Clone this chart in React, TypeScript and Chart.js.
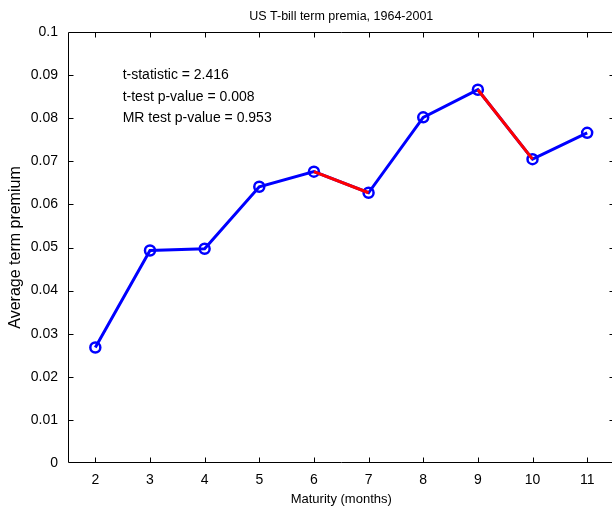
import React, { useEffect, useRef } from 'react';
import { Chart, registerables } from 'chart.js';

Chart.register(...registerables);

const chartTitle = 'US T-bill term premia, 1964-2001';
const xAxisTitle = 'Maturity (months)';
const yAxisTitle = 'Average term premium';
const maturities = [2, 3, 4, 5, 6, 7, 8, 9, 10, 11];
const premia = [0.0268, 0.0493, 0.0497, 0.0641, 0.0676, 0.0627, 0.0802, 0.0866, 0.0705, 0.0766];
const xTicks = [2, 3, 4, 5, 6, 7, 8, 9, 10, 11];
const yTicks = [0, 0.01, 0.02, 0.03, 0.04, 0.05, 0.06, 0.07, 0.08, 0.09, 0.1];
const statLines = ['t-statistic = 2.416', 't-test p-value = 0.008', 'MR test p-value = 0.953'];
const statX = 2.5;
const statY = [0.09, 0.085, 0.08];

const FONT = "'Liberation Sans', Arial, sans-serif";

export default function App() {
  const ref = useRef<HTMLCanvasElement>(null);

  useEffect(() => {
    const canvas = ref.current!;
    const blue = 'rgb(0,0,255)';
    const red = 'rgb(255,0,0)';
    const pts = maturities.map((m, i) => ({ x: m, y: premia[i] }));
    const redPts = maturities.map((m, i) => {
      const down =
        (i + 1 < premia.length && premia[i + 1] < premia[i]) ||
        (i > 0 && premia[i - 1] > premia[i]);
      return { x: m, y: down ? premia[i] : null };
    });

    const frame = {
      id: 'frame',
      afterDraw(chart: any) {
        const { ctx, chartArea } = chart;
        const x = chart.scales.x;
        const y = chart.scales.y;
        const L = Math.round(chartArea.left) + 0.5;
        const R = Math.round(chartArea.right) - 0.5;
        const T = Math.round(chartArea.top) + 0.5;
        const B = Math.round(chartArea.bottom) - 0.5;
        ctx.save();
        ctx.strokeStyle = '#000';
        ctx.lineWidth = 1;
        ctx.beginPath();
        ctx.rect(L, T, R - L, B - T);
        const tl = 5;
        xTicks.forEach((v) => {
          const px = Math.round(x.getPixelForValue(v)) + 0.5;
          ctx.moveTo(px, B);
          ctx.lineTo(px, B - tl);
          ctx.moveTo(px, T);
          ctx.lineTo(px, T + tl);
        });
        yTicks.forEach((v) => {
          const py = Math.round(y.getPixelForValue(v)) + 0.5;
          if (Math.abs(py - B) < 2 || Math.abs(py - T) < 2) return;
          ctx.moveTo(L, py);
          ctx.lineTo(L + tl, py);
          ctx.moveTo(R, py);
          ctx.lineTo(R - tl, py);
        });
        ctx.stroke();

        ctx.fillStyle = '#000';
        ctx.textBaseline = 'middle';
        ctx.textAlign = 'center';
        ctx.font = `12.5px ${FONT}`;
        ctx.fillText(chartTitle, (chartArea.left + chartArea.right) / 2, 16.5);

        ctx.font = `14px ${FONT}`;
        ctx.textAlign = 'left';
        statLines.forEach((s, i) => {
          ctx.fillText(s, x.getPixelForValue(statX), y.getPixelForValue(statY[i]));
        });
        ctx.restore();
      },
    };

    const chart = new Chart(canvas, {
      type: 'line',
      data: {
        datasets: [
          {
            data: redPts as any,
            borderColor: red,
            borderWidth: 3,
            pointRadius: 0,
            pointHoverRadius: 0,
            spanGaps: false,
            fill: false,
            tension: 0,
          },
          {
            data: pts,
            borderColor: blue,
            borderWidth: 3,
            pointRadius: 5,
            pointHoverRadius: 5,
            pointBorderWidth: 2.5,
            pointBorderColor: blue,
            pointBackgroundColor: 'rgba(0,0,0,0)',
            fill: false,
            tension: 0,
          },
        ],
      },
      options: {
        animation: false,
        responsive: false,
        devicePixelRatio: 1,
        layout: { padding: { left: 0, right: 8.5, top: 32, bottom: 0 } },
        plugins: {
          legend: { display: false },
          tooltip: { enabled: false },
          title: { display: false },
        },
        scales: {
          x: {
            type: 'linear',
            min: 1.5,
            max: 11.5,
            afterBuildTicks: (s: any) => {
              s.ticks = xTicks.map((v) => ({ value: v }));
            },
            afterFit: (s: any) => {
              s.height = 45;
            },
            grid: { display: false, drawTicks: false },
            border: { display: false },
            ticks: {
              color: '#000',
              font: { family: FONT, size: 14 },
              padding: 9,
              autoSkip: false,
              maxRotation: 0,
              callback: (v: any) => String(v),
            },
            title: {
              display: true,
              text: xAxisTitle,
              color: '#000',
              font: { family: FONT, size: 13 },
              padding: { top: 0, bottom: 1 },
            },
          },
          y: {
            type: 'linear',
            min: 0,
            max: 0.1,
            afterBuildTicks: (s: any) => {
              s.ticks = yTicks.map((v) => ({ value: v }));
            },
            afterFit: (s: any) => {
              s.width = 68;
            },
            grid: { display: false, drawTicks: false },
            border: { display: false },
            ticks: {
              color: '#000',
              font: { family: FONT, size: 14 },
              padding: 10,
              autoSkip: false,
              callback: (v: any) => String(+Number(v).toFixed(2)),
            },
            title: {
              display: true,
              text: yAxisTitle,
              color: '#000',
              font: { family: FONT, size: 16 },
              padding: { top: 6, bottom: 0 },
            },
          },
        },
      } as any,
      plugins: [frame],
    });
    return () => chart.destroy();
  }, []);

  return (
    <div
      style={{
        position: 'fixed',
        left: 0,
        top: 0,
        width: 612,
        height: 508,
        overflow: 'hidden',
        background: '#fff',
      }}
    >
      <canvas ref={ref} width={623} height={508} style={{ display: 'block' }} />
    </div>
  );
}
